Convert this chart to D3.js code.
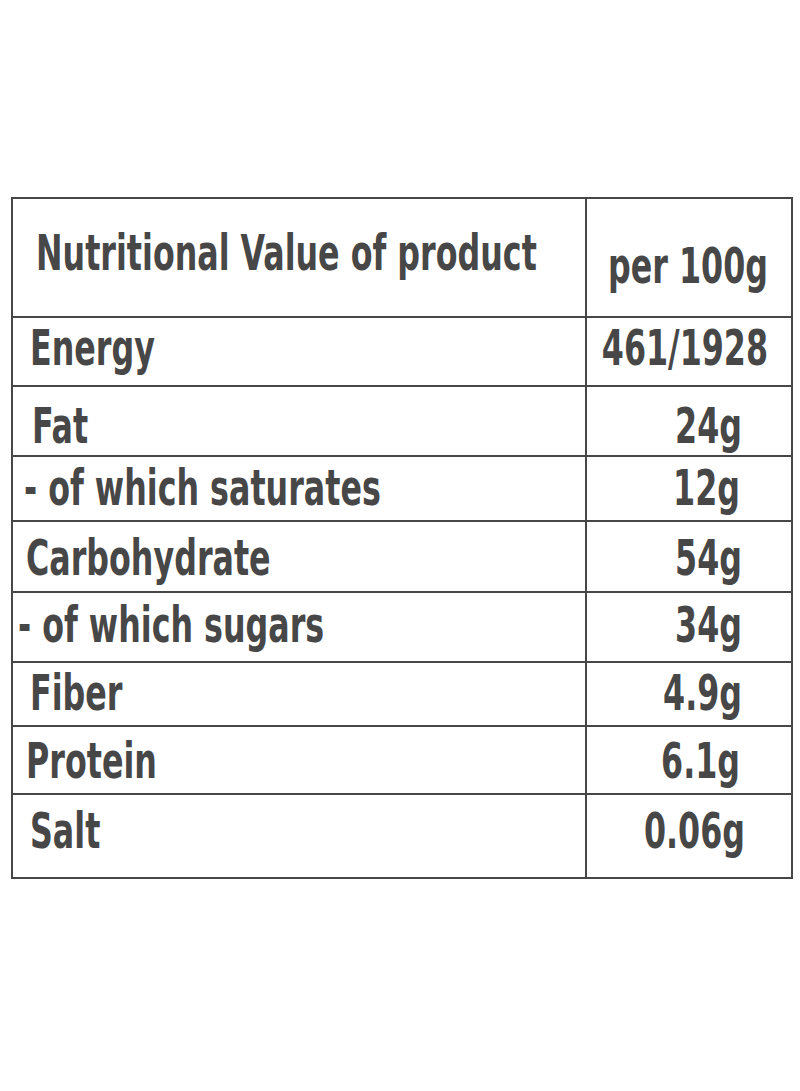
<!DOCTYPE html>
<html><head><meta charset="utf-8">
<script src="https://cdn.jsdelivr.net/npm/d3@7"></script>
<style>body{margin:0;background:#fff}</style>
</head><body>
<svg width="800" height="1091"></svg>
<script>
var header = ["Nutritional Value of product", "per 100g"];
var nutrients = ["Energy", "Fat", "- of which saturates", "Carbohydrate", "- of which sugars", "Fiber", "Protein", "Salt"];
var amounts = ["461/1928", "24g", "12g", "54g", "34g", "4.9g", "6.1g", "0.06g"];

// row boundaries of the table (layout only)
var rowEdges = [198, 317, 386, 456, 521, 592, 662, 726, 794, 878];
var labelX = [30, 32, 24, 26, 18, 30, 26, 30];
var valueRight = [768, 742, 740, 742, 742, 742, 740, 745];

var svg = d3.select("svg"), ink = "#474747";
var left = 12, right = 792, split = 586;

svg.append("rect").attr("x", left).attr("y", rowEdges[0])
  .attr("width", right - left).attr("height", rowEdges[9] - rowEdges[0])
  .style("fill", "none").style("stroke", ink).style("stroke-width", 2);

svg.selectAll("line.row").data(rowEdges.slice(1, -1)).enter().append("line")
  .attr("x1", left).attr("x2", right).attr("y1", d => d).attr("y2", d => d)
  .style("stroke", ink).style("stroke-width", 2);
svg.append("line").attr("x1", split).attr("x2", split)
  .attr("y1", rowEdges[0]).attr("y2", rowEdges[9]).style("stroke", ink).style("stroke-width", 2);

function txt(s, x, y, anchor) {
  svg.append("text").attr("transform", "translate(" + x + "," + y + ") scale(0.72,1)")
    .attr("text-anchor", anchor).text(s)
    .attr("font-family", "DejaVu Sans Condensed, DejaVu Sans").attr("font-weight", "bold")
    .attr("font-size", "49px").attr("fill", ink);
}
txt(header[0], 36, 270, "start");
txt(header[1], 768, 283, "end");
var base = [365, 443, 505, 575, 642, 710, 778, 848];
nutrients.forEach(function(n, i) {
  txt(n, labelX[i], base[i], "start");
  txt(amounts[i], valueRight[i], base[i], "end");
});
</script>
</body></html>
